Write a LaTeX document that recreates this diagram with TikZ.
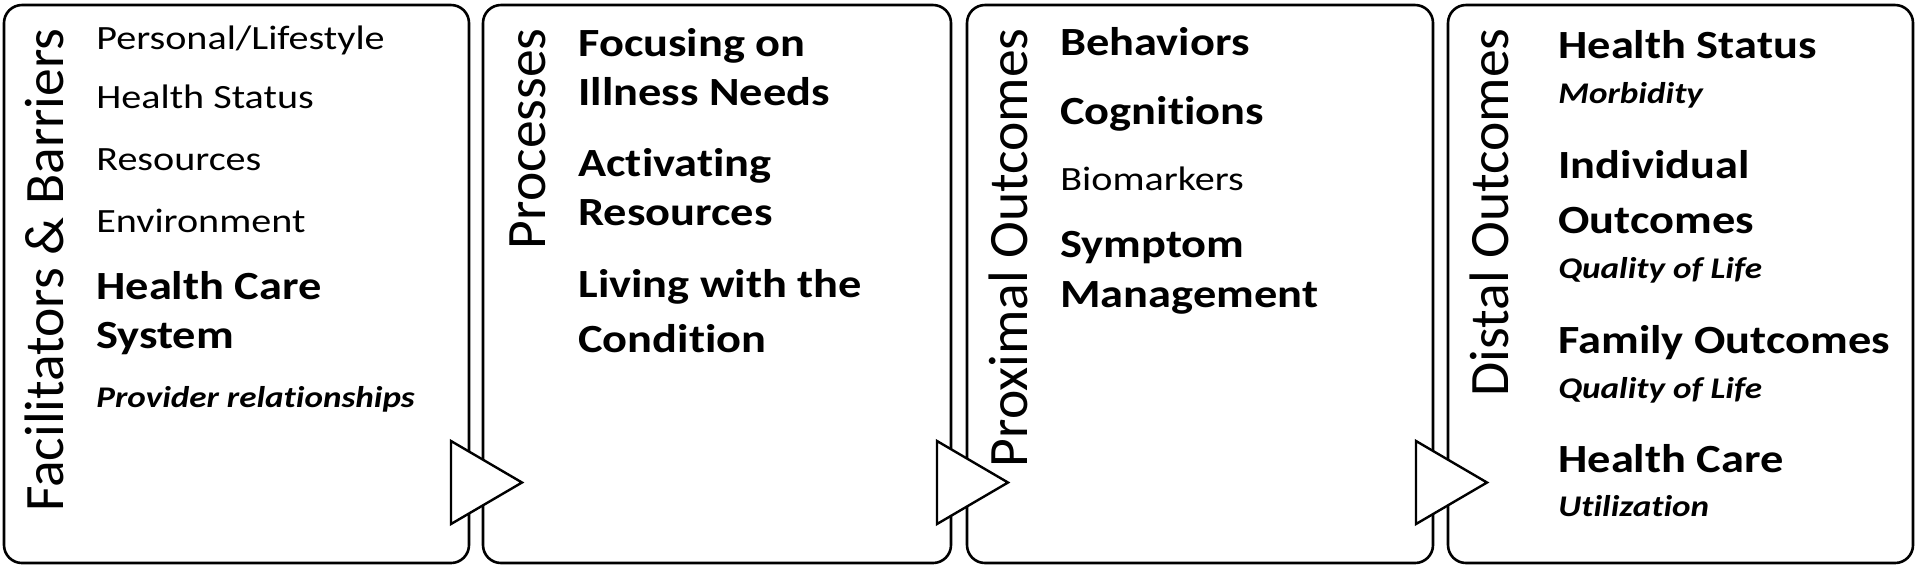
\documentclass[tikz,border=0pt]{standalone}
\usepackage{fontspec}
\setmainfont{Carlito}[Ligatures={NoCommon}]
\usepackage{graphicx}
\newcommand{\widereg}[1]{\scalebox{1.18}[1]{#1}}
\newcommand{\widebld}[1]{\scalebox{1.16}[1]{#1}}
\newcommand{\wideitl}[1]{\scalebox{1.17}[1]{#1}}
\tikzset{
  panel/.style={draw=black, line width=1.3pt, rounded corners=9pt},
  ttl/.style={rotate=90, anchor=base east, inner sep=0pt, font=\fontsize{27.8}{31}\selectfont},
  reg/.style={anchor=base west, inner sep=0pt, font=\fontsize{17}{20}\selectfont},
  bld/.style={anchor=base west, inner sep=0pt, font=\fontsize{20}{24}\selectfont\bfseries},
  itl/.style={anchor=base west, inner sep=0pt, font=\fontsize{15}{18}\selectfont\bfseries\itshape},
  tri/.style={draw=black, fill=white, line width=1.2pt, line join=miter},
}
\begin{document}
\begin{tikzpicture}[x=0.5pt, y=-0.5pt]
\useasboundingbox (0,0) rectangle (1920,570);
\fill[white] (0,0) rectangle (1920,570);
% panels
\draw[panel] (4,5) rectangle (469,563);
\draw[panel] (483,5) rectangle (951,563);
\draw[panel] (967,5) rectangle (1433,563);
\draw[panel] (1448,5) rectangle (1913,563);
% titles
\node[ttl] (h1) at (63,28) {Facilitators \& Barriers};
\node[ttl] (h2) at (545,28) {Processes};
\node[ttl] (h3) at (1027,28) {Proximal Outcomes};
\node[ttl] (h4) at (1508,28) {Distal Outcomes};
% box 1
\node[reg] (a1) at (96,49) {\widereg{Personal/Lifestyle}};
\node[reg] (a2) at (96,108) {\widereg{Health Status}};
\node[reg] (a3) at (96,170) {\widereg{Resources}};
\node[reg] (a4) at (96,232) {\widereg{Environment}};
\node[bld] (a5) at (96,299) {\widebld{Health Care}};
\node[bld] (a6) at (96,348) {\widebld{System}};
\node[itl] (a7) at (96,407) {\wideitl{Provider relationships}};
% box 2
\node[bld] (b1) at (578,56) {\widebld{Focusing on}};
\node[bld] (b2) at (578,105) {\widebld{Illness Needs}};
\node[bld] (b3) at (578,176) {\widebld{Activating}};
\node[bld] (b4) at (578,225) {\widebld{Resources}};
\node[bld] (b5) at (578,297) {\widebld{Living with the}};
\node[bld] (b6) at (578,352) {\widebld{Condition}};
% box 3
\node[bld] (c1) at (1060,55) {\widebld{Behaviors}};
\node[bld] (c2) at (1060,124) {\widebld{Cognitions}};
\node[reg] (c3) at (1060,190) {\widereg{Biomarkers}};
\node[bld] (c4) at (1060,257) {\widebld{Symptom}};
\node[bld] (c5) at (1060,307) {\widebld{Management}};
% box 4
\node[bld] (d1) at (1558,58) {\widebld{Health Status}};
\node[itl] (d2) at (1558,103) {\wideitl{Morbidity}};
\node[bld] (d3) at (1558,178) {\widebld{Individual}};
\node[bld] (d4) at (1558,233) {\widebld{Outcomes}};
\node[itl] (d5) at (1558,278) {\wideitl{Quality of Life}};
\node[bld] (d6) at (1558,353) {\widebld{Family Outcomes}};
\node[itl] (d7) at (1558,398) {\wideitl{Quality of Life}};
\node[bld] (d8) at (1558,472) {\widebld{Health Care}};
\node[itl] (d9) at (1558,516) {\wideitl{Utilization}};
% arrow triangles
\draw[tri] (451,441) -- (522,482.5) -- (451,524) -- cycle;
\draw[tri] (937,441) -- (1008,482.5) -- (937,524) -- cycle;
\draw[tri] (1416,441) -- (1487,482.5) -- (1416,524) -- cycle;
\end{tikzpicture}
\end{document}
